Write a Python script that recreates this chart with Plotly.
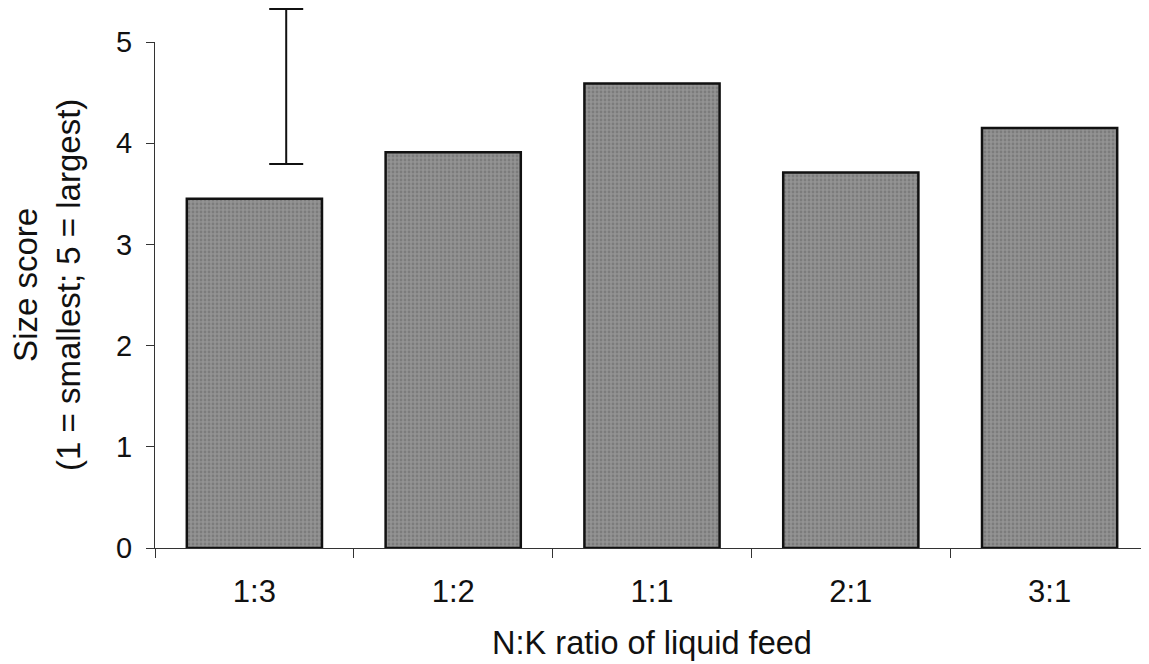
import plotly.graph_objects as go

categories = ["1:3", "1:2", "1:1", "2:1", "3:1"]
size_score = [3.45, 3.91, 4.59, 3.71, 4.15]

# Stand-alone error (LSD) bar drawn above the first group
err_x = [0.16]
err_center = [4.56]
err_half = [0.765]

y_title = "Size score<br>(1 = smallest; 5 = largest)"
x_title = "N:K ratio of liquid feed"

# The page body has an 8 px margin, so the figure is sized/offset accordingly.
W, H = 1141, 656
M_L, M_R, M_T, M_B = 147, 0, 0, 116
plot_w = W - M_L - M_R           # 994
plot_h = H - M_T - M_B           # 540
y1_top_px = 34                   # value 5 sits 34 px below plot top
y1_dom_top = (plot_h - y1_top_px) / plot_h
y_max = 5.0
y2_max = y_max / y1_dom_top

fig = go.Figure()
fig.add_trace(go.Bar(
    x=categories, y=size_score,
    width=0.68,
    marker=dict(color="#888888", line=dict(color="#111111", width=2.5),
                pattern=dict(shape=".", fgcolor="#666666", bgcolor="#939393",
                             size=4, solidity=0.4)),
    showlegend=False, hoverinfo="skip",
))
fig.add_trace(go.Scatter(
    x=err_x, y=err_center, xaxis="x2", yaxis="y2", mode="markers",
    marker=dict(size=1, color="rgba(0,0,0,0)"),
    error_y=dict(type="data", array=err_half, color="#111111", thickness=2, width=17),
    cliponaxis=False, showlegend=False, hoverinfo="skip",
))

font = "Liberation Sans, Arial, sans-serif"
fig.update_layout(
    width=W, height=H,
    margin=dict(l=M_L, r=M_R, t=M_T, b=M_B, autoexpand=False),
    plot_bgcolor="rgba(0,0,0,0)", paper_bgcolor="white",
    font=dict(family=font, color="#111111"),
    xaxis=dict(
        type="category", range=[-0.5, 4.5], tickson="boundaries",
        domain=[0, 1], anchor="y", automargin=False,
        showline=True, linecolor="#333333", linewidth=1.2,
        ticks="outside", ticklen=9, tickcolor="#333333", tickwidth=1.2,
        tickfont=dict(size=31), ticklabelstandoff=16,
        showgrid=False, zeroline=False,
        title=dict(text=x_title, font=dict(size=32.5), standoff=22),
    ),
    yaxis=dict(
        range=[0, y_max], tickvals=[0, 1, 2, 3, 4, 5],
        domain=[0, y1_dom_top], anchor="x", automargin=False,
        showline=True, linecolor="#333333", linewidth=1.2,
        ticks="outside", ticklen=8, tickcolor="#333333", tickwidth=1.2,
        tickfont=dict(size=29), showgrid=False, zeroline=False,
        ticklabelstandoff=8,
    ),
    xaxis2=dict(range=[-0.5, 4.5], domain=[0, 1], anchor="y2", visible=False, automargin=False),
    yaxis2=dict(range=[0, y2_max], domain=[0, 1], anchor="x2", visible=False, automargin=False),
    annotations=[dict(
        text=y_title, textangle=-90, showarrow=False,
        xref="paper", yref="paper",
        x=(39 - M_L) / plot_w, y=(plot_h - 277) / plot_h,
        xanchor="center", yanchor="middle",
        font=dict(size=33, family=font, color="#111111"),
    )],
)

fig.write_html("out.html")
